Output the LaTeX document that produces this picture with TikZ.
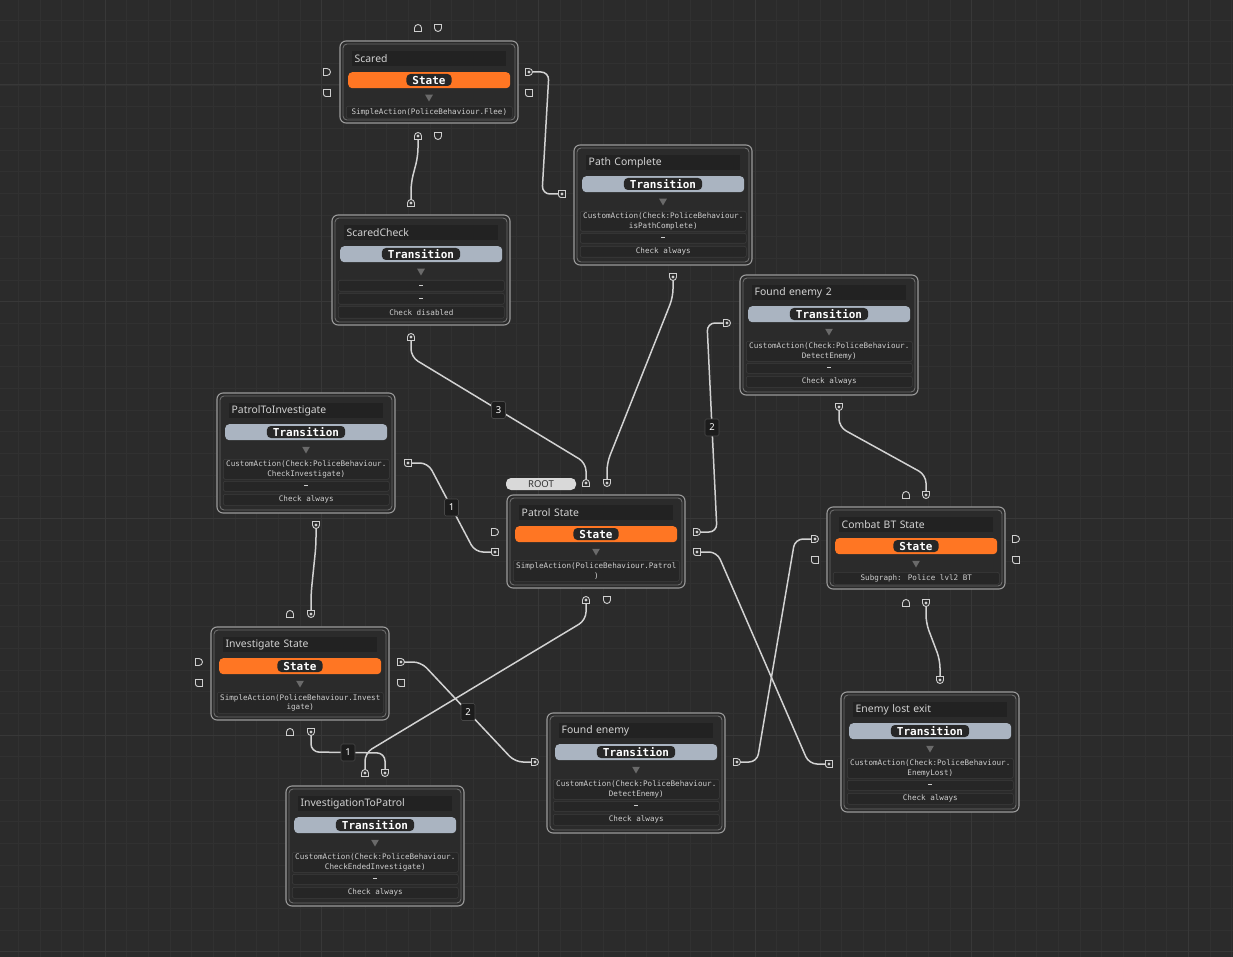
\documentclass[tikz,border=0pt]{standalone}
\usepackage{fontspec}
\setmainfont{Noto Sans}
\newfontfamily\monof{DejaVu Sans Mono}
\usetikzlibrary{calc,shapes.geometric}
\definecolor{bg}{HTML}{2B2B2B}
\definecolor{gridmin}{HTML}{313131}
\definecolor{gridmaj}{HTML}{383838}
\definecolor{wirec}{HTML}{D2D2D2}
\definecolor{frameo}{HTML}{9A9A9A}
\definecolor{framei}{HTML}{6C6C6C}
\definecolor{titlebg}{HTML}{222222}
\definecolor{titletx}{HTML}{D2D2D2}
\definecolor{orange}{HTML}{FF7623}
\definecolor{trans}{HTML}{AAB4C1}
\definecolor{pillbg}{HTML}{272727}
\definecolor{trig}{HTML}{6A6A6A}
\definecolor{aboxbg}{HTML}{262626}
\definecolor{aboxbd}{HTML}{3C3C3C}
\definecolor{aboxtx}{HTML}{CFCFCF}
\definecolor{rootbg}{HTML}{D9D9D9}
\definecolor{roottx}{HTML}{333333}
\definecolor{lblbg}{HTML}{1C1C1C}
\definecolor{lblbd}{HTML}{484848}
\definecolor{portc}{HTML}{CFCFCF}
\pgfdeclarelayer{gridlayer}
\pgfdeclarelayer{wirelayer}
\pgfsetlayers{gridlayer,wirelayer,main}
\newcommand\PortArch{\filldraw[draw=portc,fill=bg,line width=0.9pt]
  ([xshift=-3.5pt,yshift=-3.5pt]path picture bounding box.center) -- ++(0pt,3.5pt)
  arc[start angle=180,end angle=0,radius=3.5pt] -- ++(0pt,-3.5pt) -- cycle;}
\newcommand\PortCup{\filldraw[draw=portc,fill=bg,line width=0.9pt]
  ([xshift=-3.5pt,yshift=3.5pt]path picture bounding box.center) -- ++(0pt,-3.5pt)
  arc[start angle=180,end angle=360,radius=3.5pt] -- ++(0pt,3.5pt) -- cycle;}
\newcommand\PortDee{\filldraw[draw=portc,fill=bg,line width=0.9pt]
  ([xshift=-3.5pt,yshift=3.5pt]path picture bounding box.center) -- ++(3.5pt,0pt)
  arc[start angle=90,end angle=-90,radius=3.5pt] -- ++(-3.5pt,0pt) -- cycle;}
\newcommand\PortSq{\filldraw[draw=portc,fill=bg,line width=0.9pt]
  ([xshift=-3.5pt,yshift=3.5pt]path picture bounding box.center) -- ++(7pt,0pt) -- ++(0pt,-7pt)
  -- ++(-4.5pt,0pt) arc[start angle=270,end angle=180,radius=2.5pt] -- cycle;}
\newcommand\PortDot{\fill[portc] (path picture bounding box.center) circle[radius=1.6pt];}
\newcommand\Dsh{\rule[1.6pt]{4.2pt}{0.8pt}}
\tikzset{
  port/.style={minimum size=10pt,inner sep=0pt,outer sep=0pt,shape=rectangle},
  pA/.style={port,path picture={\PortArch}},
  pC/.style={port,path picture={\PortCup}},
  pD/.style={port,path picture={\PortDee}},
  pS/.style={port,path picture={\PortSq}},
  pAd/.style={port,path picture={\PortArch\PortDot}},
  pCd/.style={port,path picture={\PortCup\PortDot}},
  pDd/.style={port,path picture={\PortDee\PortDot}},
  pSd/.style={port,path picture={\PortSq\PortDot}},
  cardout/.style={draw=frameo,line width=1.1pt,rounded corners=6pt,fill=bg,anchor=north west,
    minimum width=178pt,inner sep=0pt,outer sep=0pt},
  cardin/.style={draw=framei,line width=0.9pt,rounded corners=4pt,anchor=north west,
    minimum width=172pt,inner sep=0pt,outer sep=0pt},
  titlef/.style={fill=titlebg,anchor=north west,minimum height=15pt,inner ysep=0pt,inner xsep=2.5pt,
    text width=149pt,align=left,text=titletx,font=\fontsize{10.4}{12}\selectfont},
  barbox/.style={anchor=north west,minimum width=162pt,minimum height=16pt,rounded corners=4pt,inner sep=0pt},
  pill/.style={fill=pillbg,rounded corners=4pt,text=white,font=\monof\bfseries\fontsize{11}{12}\selectfont,
    inner xsep=6pt,inner ysep=0pt,minimum height=12pt},
  tri/.style={regular polygon,regular polygon sides=3,shape border rotate=180,fill=trig,minimum size=9pt,inner sep=0pt},
  abox/.style={fill=aboxbg,draw=aboxbd,line width=0.6pt,rounded corners=2pt,anchor=north west,
    minimum width=166pt,inner sep=0pt,text=aboxtx,font=\monof\fontsize{7.6}{9.6}\selectfont,align=center},
  rootpill/.style={fill=rootbg,rounded corners=5pt,minimum width=70pt,minimum height=12pt,inner sep=0pt,
    text=roottx,font=\fontsize{9.5}{10}\selectfont},
  elabel/.style={fill=lblbg,draw=lblbd,line width=0.6pt,rounded corners=1.5pt,minimum width=14pt,
    minimum height=17pt,inner sep=0pt,text=white,font=\bfseries\fontsize{9.5}{10}\selectfont},
  wire/.style={draw=wirec,line width=1.5pt,rounded corners=8pt},
}
\newcommand\StateCard[7]{%
\begin{scope}[shift={(#2,#3)}]
  \node[cardout,minimum height=#4pt] (#1) at (0,0) {};
  \node[cardin,minimum height=#4pt-6pt] (#1-in) at (3,3) {};
  \node[titlef] (#1-title) at (12,10) {#5};
  \node[barbox,fill=orange] (#1-bar) at (8,31) {};
  \node[pill] (#1-pill) at (89,39) {State};
  \node[tri] (#1-tri) at (89,56) {};
  \node[abox,minimum height=#7pt] (#1-a) at (6,65) {#6};
\end{scope}}
\newcommand\TransCard[5]{%
\begin{scope}[shift={(#2,#3)}]
  \node[cardout,minimum height=120pt] (#1) at (0,0) {};
  \node[cardin,minimum height=114pt] (#1-in) at (3,3) {};
  \node[titlef] (#1-title) at (12,10) {#4};
  \node[barbox,fill=trans] (#1-bar) at (8,31) {};
  \node[pill] (#1-pill) at (89,39) {Transition};
  \node[tri] (#1-tri) at (89,56) {};
  \node[abox,minimum height=20pt] (#1-a) at (6,66) {#5};
  \node[abox,minimum height=10pt] (#1-b) at (6,88) {\Dsh};
  \node[abox,minimum height=11pt] (#1-c) at (6,101) {Check always};
\end{scope}}
\begin{document}
\begin{tikzpicture}[x=1pt,y=-1pt]
\useasboundingbox (0,0) rectangle (1233,957);
\begin{pgfonlayer}{gridlayer}
  \fill[bg] (0,0) rectangle (1233,957);
  \foreach \k in {-4,...,52} \draw[gridmin,line width=0.8pt] ({105+21.667*\k},0) -- ({105+21.667*\k},957);
  \foreach \k in {-3,...,40} \draw[gridmin,line width=0.8pt] (0,{85+21.667*\k}) -- (1233,{85+21.667*\k});
  \foreach \k in {0,10,20,30,40,50} \draw[gridmaj,line width=1pt] ({105+21.667*\k},0) -- ({105+21.667*\k},957);
  \foreach \k in {0,10,20,30,40} \draw[gridmaj,line width=1pt] (0,{85+21.667*\k}) -- (1233,{85+21.667*\k});
\end{pgfonlayer}

% cards
\StateCard{sc}{340}{41}{82}{Scared}{SimpleAction(PoliceBehaviour.Flee)}{12}
\TransCard{pc}{574}{145}{Path Complete}{CustomAction(Check:PoliceBehaviour.\\isPathComplete)}
\begin{scope}[shift={(332,215)}]
  \node[cardout,minimum height=110pt] (scc) at (0,0) {};
  \node[cardin,minimum height=104pt] (scc-in) at (3,3) {};
  \node[titlef] (scc-title) at (12,10) {ScaredCheck};
  \node[barbox,fill=trans] (scc-bar) at (8,31) {};
  \node[pill] (scc-pill) at (89,39) {Transition};
  \node[tri] (scc-tri) at (89,56) {};
  \node[abox,minimum height=11pt] (scc-a) at (6,65) {\Dsh};
  \node[abox,minimum height=11pt] (scc-b) at (6,78) {\Dsh};
  \node[abox,minimum height=12pt] (scc-c) at (6,91) {Check disabled};
\end{scope}
\TransCard{fe2}{740}{275}{Found enemy 2}{CustomAction(Check:PoliceBehaviour.\\DetectEnemy)}
\TransCard{pi}{217}{393}{PatrolToInvestigate}{CustomAction(Check:PoliceBehaviour.\\CheckInvestigate)}
\StateCard{pa}{507}{495}{93}{Patrol State}{SimpleAction(PoliceBehaviour.Patrol\\)}{21}
\node[rootpill] (root) at (541,484) {ROOT};
\StateCard{cb}{827}{507}{82}{Combat BT State}{Subgraph: Police lvl2 BT}{12}
\StateCard{inv}{211}{627}{93}{Investigate State}{SimpleAction(PoliceBehaviour.Invest\\igate)}{21}
\TransCard{fe}{547}{713}{Found enemy}{CustomAction(Check:PoliceBehaviour.\\DetectEnemy)}
\TransCard{el}{841}{692}{Enemy lost exit}{CustomAction(Check:PoliceBehaviour.\\EnemyLost)}
\TransCard{ip}{286}{786}{InvestigationToPatrol}{CustomAction(Check:PoliceBehaviour.\\CheckEndedInvestigate)}

% ports
\node[pA] (sc-t1) at (418,28) {};
\node[pC] (sc-t2) at (438,28) {};
\node[pD] (sc-l1) at (327,72) {};
\node[pS] (sc-l2) at (327,93) {};
\node[pDd] (sc-r1) at (529,72) {};
\node[pS] (sc-r2) at (529,93) {};
\node[pAd] (sc-b1) at (418,136) {};
\node[pC] (sc-b2) at (438,136) {};
\node[pSd] (pc-l) at (562,194) {};
\node[pCd] (pc-b) at (673,277) {};
\node[pAd] (scc-t) at (411,203) {};
\node[pAd] (scc-b) at (411,337) {};
\node[pDd] (fe2-l) at (727,323) {};
\node[pCd] (fe2-b) at (839,407) {};
\node[pSd] (pi-r) at (408,463) {};
\node[pCd] (pi-b) at (316,525) {};
\node[pAd] (pa-t1) at (586,483) {};
\node[pCd] (pa-t2) at (607,483) {};
\node[pD] (pa-l1) at (495,532) {};
\node[pSd] (pa-l2) at (495,552) {};
\node[pDd] (pa-r1) at (697,532) {};
\node[pSd] (pa-r2) at (697,552) {};
\node[pAd] (pa-b1) at (586,600) {};
\node[pC] (pa-b2) at (607,600) {};
\node[pA] (cb-t1) at (906,495) {};
\node[pCd] (cb-t2) at (926,495) {};
\node[pDd] (cb-l1) at (815,539) {};
\node[pS] (cb-l2) at (815,560) {};
\node[pD] (cb-r1) at (1016,539) {};
\node[pS] (cb-r2) at (1016,560) {};
\node[pA] (cb-b1) at (906,603) {};
\node[pCd] (cb-b2) at (926,603) {};
\node[pA] (inv-t1) at (290,614) {};
\node[pCd] (inv-t2) at (311,614) {};
\node[pD] (inv-l1) at (199,662) {};
\node[pS] (inv-l2) at (199,683) {};
\node[pDd] (inv-r1) at (401,662) {};
\node[pS] (inv-r2) at (401,683) {};
\node[pA] (inv-b1) at (290,732) {};
\node[pCd] (inv-b2) at (311,732) {};
\node[pDd] (fe-l) at (535,762) {};
\node[pDd] (fe-r) at (737,762) {};
\node[pCd] (el-t) at (940,680) {};
\node[pSd] (el-l) at (829,764) {};
\node[pAd] (ip-t1) at (365,773) {};
\node[pCd] (ip-t2) at (385,773) {};

% wires
\begin{pgfonlayer}{wirelayer}
\draw[wire] (sc-r1.center) -- ++(20,0) -- ($(pc-l.center)+(-20,0)$) -- (pc-l.center);
\draw[wire] (sc-b1.center) -- ++(0,20) -- ($(scc-t.center)+(0,-20)$) -- (scc-t.center);
\draw[wire] (scc-b.center) -- ++(0,20) -- ($(pa-t1.center)+(0,-20)$) node[elabel,midway] (lb3) {3} -- (pa-t1.center);
\draw[wire] (pc-b.center) -- ++(0,20) -- ($(pa-t2.center)+(0,-20)$) -- (pa-t2.center);
\draw[wire] (pa-r1.center) -- ++(20,0) -- ($(fe2-l.center)+(-20,0)$) node[elabel,midway] (lb2a) {2} -- (fe2-l.center);
\draw[wire] (fe2-b.center) -- ++(0,20) -- ($(cb-t2.center)+(0,-20)$) -- (cb-t2.center);
\draw[wire] (cb-b2.center) -- ++(0,20) -- ($(el-t.center)+(0,-20)$) -- (el-t.center);
\draw[wire] (pa-r2.center) -- ++(20,0) -- ($(el-l.center)+(-20,0)$) -- (el-l.center);
\draw[wire] (fe-r.center) -- ++(20,0) -- ($(cb-l1.center)+(-20,0)$) -- (cb-l1.center);
\draw[wire] (pi-r.center) -- ++(20,0) -- ($(pa-l2.center)+(-20,0)$) node[elabel,midway] (lb1a) {1} -- (pa-l2.center);
\draw[wire] (pi-b.center) -- ++(0,20) -- ($(inv-t2.center)+(0,-20)$) -- (inv-t2.center);
\draw[wire] (inv-r1.center) -- ++(20,0) -- ($(fe-l.center)+(-20,0)$) node[elabel,midway] (lb2b) {2} -- (fe-l.center);
\draw[wire] (pa-b1.center) -- ++(0,20) -- ($(ip-t1.center)+(0,-20)$) -- (ip-t1.center);
\draw[wire] (inv-b2.center) -- ++(0,20) -- ($(ip-t2.center)+(0,-20)$) node[elabel,midway] (lb1b) {1} -- (ip-t2.center);
\end{pgfonlayer}
\end{tikzpicture}
\end{document}
